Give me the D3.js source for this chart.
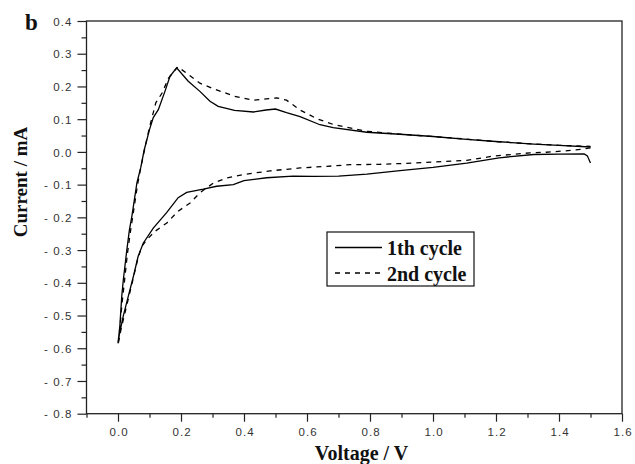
<!DOCTYPE html>
<html>
<head>
<meta charset="utf-8">
<script src="https://cdn.jsdelivr.net/npm/d3@7"></script>
<style>
  body { margin: 0; background: #fff; }
  #chart { width: 635px; height: 464px; }
  .tick-label { font-family: "Liberation Sans", Arial, sans-serif; font-size: 11.5px; fill: #333; letter-spacing: 1.1px; }
  .axis-title { font-family: "Liberation Serif", "Times New Roman", serif; font-weight: bold; fill: #111; }
</style>
</head>
<body>
<div id="chart"></div>
<script>
// cyclic voltammogram, voltage (V) / current (mA), each cycle starts at 1.5 V going down
let cycle1 = [
  [1.5, -0.034], [1.49, -0.012], [1.48, -0.006], [1.40, -0.007], [1.32, -0.008],
  [1.21, -0.018], [1.107, -0.034], [1.0, -0.047], [0.895, -0.057], [0.79, -0.068],
  [0.70, -0.074], [0.62, -0.075], [0.556, -0.074], [0.472, -0.079], [0.40, -0.088],
  [0.366, -0.100], [0.313, -0.105], [0.271, -0.114], [0.218, -0.124], [0.191, -0.140],
  [0.155, -0.185], [0.112, -0.233], [0.08, -0.279], [0.064, -0.319], [0.049, -0.38],
  [0.033, -0.44], [0.017, -0.50], [0.004, -0.56], [0.0, -0.585],
  [0.006, -0.53], [0.012, -0.44], [0.017, -0.39], [0.028, -0.30], [0.036, -0.24],
  [0.044, -0.197], [0.06, -0.095], [0.072, -0.049], [0.083, 0.005], [0.10, 0.068],
  [0.112, 0.105], [0.128, 0.129], [0.149, 0.185], [0.165, 0.231], [0.186, 0.257],
  [0.223, 0.216], [0.26, 0.185], [0.292, 0.155], [0.318, 0.139], [0.37, 0.127],
  [0.43, 0.122], [0.47, 0.128], [0.50, 0.131], [0.535, 0.120], [0.578, 0.108],
  [0.641, 0.083], [0.683, 0.074], [0.79, 0.060], [0.895, 0.054], [1.0, 0.047],
  [1.107, 0.038], [1.21, 0.031], [1.32, 0.024], [1.40, 0.020], [1.5, 0.015]
]

let cycle2 = [
  [1.5, 0.012], [1.445, 0.005], [1.36, -0.001], [1.307, -0.003], [1.19, -0.013],
  [1.107, -0.026], [1.0, -0.031], [0.916, -0.035], [0.83, -0.038], [0.737, -0.039],
  [0.663, -0.044], [0.578, -0.049], [0.483, -0.058], [0.398, -0.069], [0.345, -0.080],
  [0.303, -0.095], [0.26, -0.125], [0.229, -0.156], [0.191, -0.181], [0.155, -0.217],
  [0.117, -0.243], [0.09, -0.27], [0.075, -0.29], [0.062, -0.33], [0.045, -0.40],
  [0.025, -0.48], [0.01, -0.54], [0.0, -0.59],
  [0.005, -0.55], [0.012, -0.47], [0.02, -0.40], [0.03, -0.31], [0.04, -0.24],
  [0.048, -0.19], [0.062, -0.10], [0.074, -0.04], [0.086, 0.015], [0.10, 0.075],
  [0.12, 0.150], [0.14, 0.180], [0.16, 0.225], [0.19, 0.260], [0.218, 0.240],
  [0.26, 0.210], [0.303, 0.193], [0.37, 0.170], [0.43, 0.158], [0.47, 0.162],
  [0.504, 0.165], [0.535, 0.158], [0.578, 0.128], [0.63, 0.102], [0.683, 0.084],
  [0.79, 0.063], [0.895, 0.054], [1.0, 0.047], [1.107, 0.039], [1.21, 0.031],
  [1.32, 0.024], [1.40, 0.020], [1.5, 0.017]
]

let seriesNames = ['1th cycle', '2nd cycle']
let xTicks = [0.0, 0.2, 0.4, 0.6, 0.8, 1.0, 1.2, 1.4, 1.6]
let xMinorTicks = [-0.1, 0.1, 0.3, 0.5, 0.7, 0.9, 1.1, 1.3, 1.5]
let yTicks = [-0.8, -0.7, -0.6, -0.5, -0.4, -0.3, -0.2, -0.1, 0.0, 0.1, 0.2, 0.3, 0.4]
let yMinorTicks = [-0.75, -0.65, -0.55, -0.45, -0.35, -0.25, -0.15, -0.05, 0.05, 0.15, 0.25, 0.35]

let svg = d3.select('#chart').append('svg')
  .attr('width', 635)
  .attr('height', 464)

let plotLeft = 86.5, plotRight = 622, plotTop = 21, plotBottom = 413.7

let x = d3.scaleLinear().domain([-0.1, 1.6]).range([plotLeft, plotRight])
let y = d3.scaleLinear().domain([-0.8, 0.4]).range([plotBottom, plotTop])

function fmt(d) {
  let s = d3.format('.1f')(Math.abs(d))
  return d < -1e-9 ? '- ' + s : s
}

// frame
svg.append('rect')
  .attr('x', plotLeft).attr('y', plotTop)
  .attr('width', plotRight - plotLeft).attr('height', plotBottom - plotTop)
  .attr('fill', 'none').attr('stroke', '#222').attr('stroke-width', 1.3)

// y axis
let yAxis = svg.append('g').attr('transform', 'translate(' + plotLeft + ',0)')
  .call(d3.axisLeft(y).tickValues(yTicks).tickSize(9).tickFormat(fmt))
yAxis.select('.domain').remove()
yAxis.selectAll('line').attr('stroke', '#222').attr('stroke-width', 1.2)
yAxis.selectAll('text').attr('class', 'tick-label').attr('x', -14).attr('dy', '0.36em')

let yMinor = svg.append('g').attr('transform', 'translate(' + plotLeft + ',0)')
  .call(d3.axisLeft(y).tickValues(yMinorTicks).tickSize(5).tickFormat(''))
yMinor.select('.domain').remove()
yMinor.selectAll('line').attr('stroke', '#222').attr('stroke-width', 1.2)

// x axis
let xAxis = svg.append('g').attr('transform', 'translate(0,' + plotBottom + ')')
  .call(d3.axisBottom(x).tickValues(xTicks).tickSize(8).tickFormat(fmt))
xAxis.select('.domain').remove()
xAxis.selectAll('line').attr('stroke', '#222').attr('stroke-width', 1.2)
xAxis.selectAll('text').attr('class', 'tick-label').attr('y', 14).attr('dx', '0.6px').attr('dy', '0.71em')

let xMinor = svg.append('g').attr('transform', 'translate(0,' + plotBottom + ')')
  .call(d3.axisBottom(x).tickValues(xMinorTicks).tickSize(4).tickFormat(''))
xMinor.select('.domain').remove()
xMinor.selectAll('line').attr('stroke', '#222').attr('stroke-width', 1.2)

// curves
let line = d3.line().x(function(d){ return x(d[0]) }).y(function(d){ return y(d[1]) })

svg.append('path').datum(cycle1)
  .attr('d', line)
  .attr('fill', 'none').attr('stroke', '#000').attr('stroke-width', 1.3)

svg.append('path').datum(cycle2)
  .attr('d', line)
  .attr('fill', 'none').attr('stroke', '#000').attr('stroke-width', 1.3)
  .attr('stroke-dasharray', '5,5')

// legend
let legend = svg.append('g')
legend.append('rect')
  .attr('x', 327).attr('y', 232).attr('width', 147).attr('height', 54)
  .attr('fill', '#fff').attr('stroke', '#111').attr('stroke-width', 1.2)

seriesNames.forEach(function(name, i) {
  let ly = 247.5 + i * 25.5
  legend.append('line')
    .attr('x1', 335).attr('x2', 382).attr('y1', ly).attr('y2', ly)
    .attr('stroke', '#000').attr('stroke-width', 1.3)
    .attr('stroke-dasharray', i == 1 ? '5,5' : null)
  legend.append('text')
    .attr('class', 'axis-title')
    .attr('x', 387).attr('y', ly + 7.5)
    .style('font-size', '20px')
    .text(name)
})

// titles
svg.append('text').attr('class', 'axis-title')
  .attr('x', 25).attr('y', 30)
  .style('font-size', '23px')
  .text('b')

svg.append('text').attr('class', 'axis-title')
  .attr('transform', 'translate(27,182) rotate(-90)')
  .attr('text-anchor', 'middle')
  .style('font-size', '19px')
  .text('Current / mA')

svg.append('text').attr('class', 'axis-title')
  .attr('x', 361.5).attr('y', 460)
  .attr('text-anchor', 'middle')
  .style('font-size', '20px')
  .text('Voltage / V')
</script>
</body>
</html>
